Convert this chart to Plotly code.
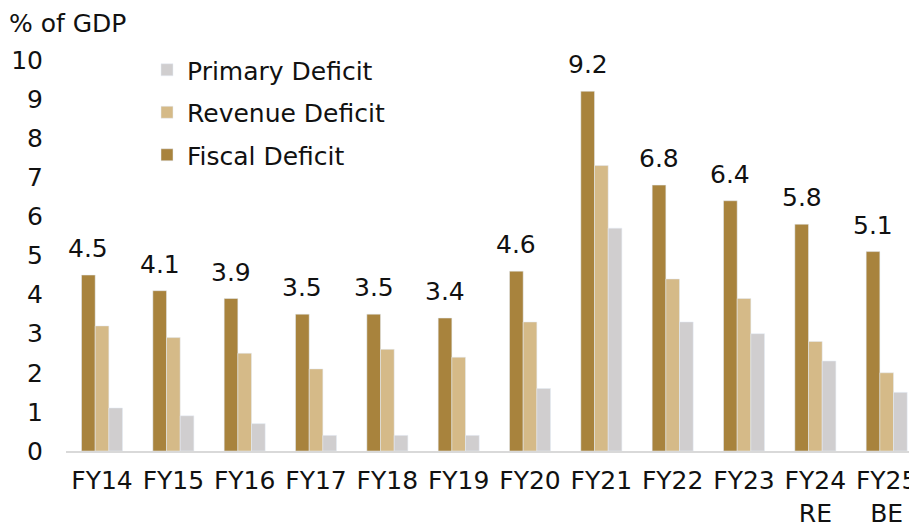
import plotly.graph_objects as go

categories = ["FY14", "FY15", "FY16", "FY17", "FY18", "FY19", "FY20", "FY21", "FY22", "FY23", "FY24<br>RE", "FY25<br>BE"]
fiscal = [4.5, 4.1, 3.9, 3.5, 3.5, 3.4, 4.6, 9.2, 6.8, 6.4, 5.8, 5.1]
revenue = [3.2, 2.9, 2.5, 2.1, 2.6, 2.4, 3.3, 7.3, 4.4, 3.9, 2.8, 2.0]
primary = [1.1, 0.9, 0.7, 0.4, 0.4, 0.4, 1.6, 5.7, 3.3, 3.0, 2.3, 1.5]

FONT = "DejaVu Sans"
FS = 25
W, H = 909, 518          # page body has an 8px margin
L, R, T, B = 58, 0, 52, 75
PW, PH = W - L - R, H - T - B

fig = go.Figure()
fig.add_trace(go.Bar(x=categories, y=fiscal, name="Fiscal Deficit", marker_color="#A8833D",
                     legendgroup="f", legendrank=3))
fig.add_trace(go.Bar(x=categories, y=revenue, name="Revenue Deficit", marker_color="#D5BA88",
                     legendgroup="r", legendrank=2))
fig.add_trace(go.Bar(x=categories, y=primary, name="Primary Deficit", marker_color="#D0CECF",
                     legendgroup="p", legendrank=1))

bargap = 0.425
step = PW / 11.93
barw = step * (1 - bargap) / 3
for c, v in zip(categories, fiscal):
    fig.add_annotation(x=c, y=v, xref="x", yref="y", text=f"{v:.1f}", showarrow=False,
                       xshift=-barw, yanchor="bottom", yshift=10, font=dict(size=FS))

fig.update_layout(
    width=W, height=H,
    margin=dict(l=L, r=R, t=T, b=B),
    paper_bgcolor="white", plot_bgcolor="white",
    font=dict(family=FONT, size=FS, color="#111"),
    barmode="group", bargap=bargap, bargroupgap=0,
    showlegend=True,
    legend=dict(x=(188 - 8 - L - 41) / PW, y=1 + 13 / PH, xanchor="left", yanchor="top",
                traceorder="grouped", tracegroupgap=7,
                font=dict(size=FS), bgcolor="rgba(0,0,0,0)", itemwidth=30),
    xaxis=dict(range=[-0.505, 11.425], showgrid=False, showline=True, linecolor="#D9D9D9",
               linewidth=2, ticks="", tickfont=dict(size=FS), ticklabelstandoff=6,
               automargin=False),
    yaxis=dict(range=[0, 10], dtick=1, showgrid=False, showline=False, zeroline=False,
               ticks="", tickfont=dict(size=FS), ticklabelstandoff=22, automargin=False),
)
fig.add_annotation(text="% of GDP", xref="paper", yref="paper", x=-(L + 1) / PW, y=1 + 37 / PH,
                   xanchor="left", yanchor="middle", showarrow=False, font=dict(size=FS))
fig.write_html("out.html")
